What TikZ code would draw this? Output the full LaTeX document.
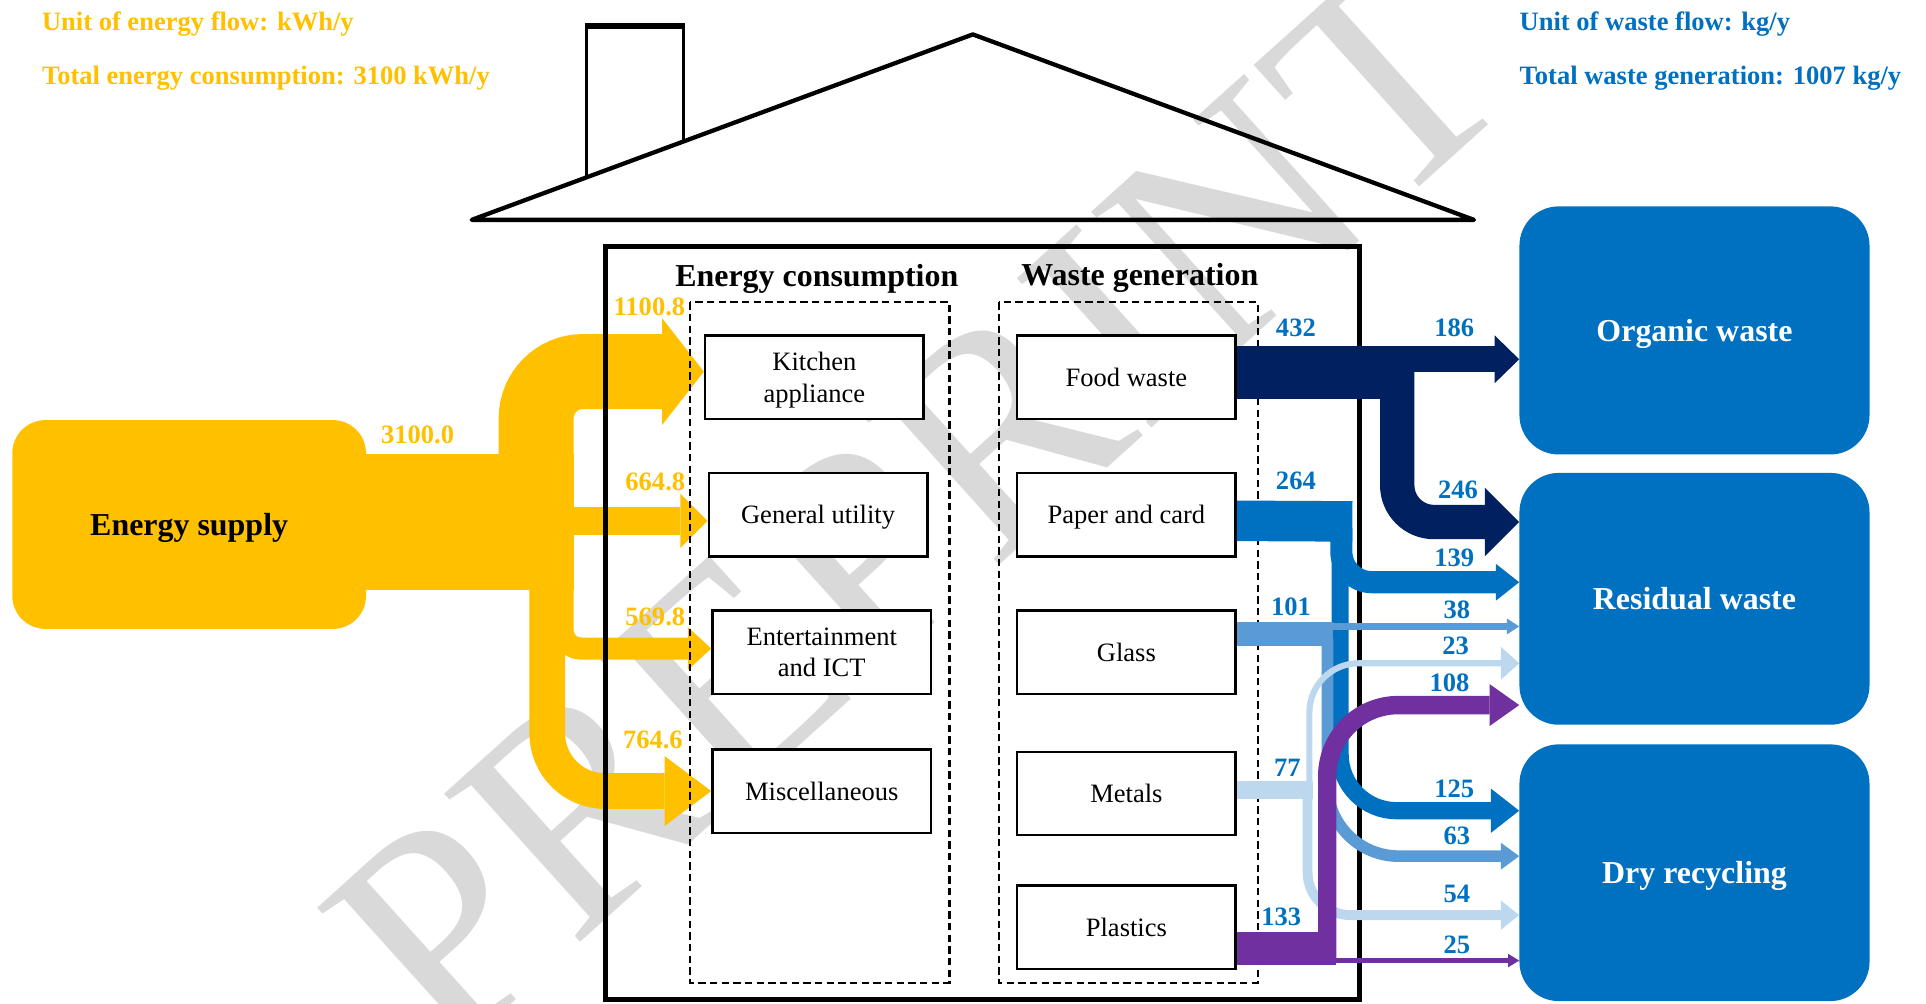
\documentclass[tikz,border=0pt]{standalone}
\usepackage{fontspec}
\setmainfont{Liberation Serif}
\usepackage{tikz}
\usetikzlibrary{arrows.meta,calc}

\definecolor{energyc}{HTML}{FFC000}
\definecolor{sinkc}{HTML}{0070C0}
\definecolor{foodc}{HTML}{002060}
\definecolor{paperc}{HTML}{0070C0}
\definecolor{glassc}{HTML}{5B9BD5}
\definecolor{metalc}{HTML}{BDD7EE}
\definecolor{plasticc}{HTML}{7030A0}
\definecolor{markc}{HTML}{D9D9D9}

\newcommand{\fsmall}{\fontsize{21.6}{26}\selectfont}
\newcommand{\fbig}{\fontsize{26}{31}\selectfont}

\tikzset{
  box/.style={draw, line width=2pt, fill=white, minimum width=178pt, minimum height=68pt, align=center, text depth=0pt, font=\fsmall},
  sink/.style={fill=sinkc, rounded corners=32pt, minimum width=285pt, text=white, text depth=0pt, font=\bfseries\fbig},
  elbl/.style={text=energyc, font=\bfseries\fsmall, text depth=0pt, inner sep=0pt},
  wlbl/.style={text=sinkc, font=\bfseries\fsmall, text depth=0pt, inner sep=0pt},
  frame/.style={dash pattern=on 6pt off 3.5pt, line width=1.8pt},
  hd/.style 2 args={-{Triangle[length=#1,width=#2,line width=0pt]}},
}

\begin{document}
\begin{tikzpicture}[x=1pt, y=-1pt]
    \useasboundingbox (0,0) rectangle (1568,817);
    % Watermark
    \node[text=markc, rotate=42, inner sep=0pt, font=\fontsize{250}{250}\selectfont] (mark) at (747,410) {PREPRINT};

    % Units and totals
    \node[elbl, anchor=west] (eunit) at (34,17) {Unit of energy flow: kWh/y};
    \node[elbl, anchor=west] (etotal) at (34,61) {Total energy consumption: 3100 kWh/y};
    \node[wlbl, anchor=west] (wunit) at (1237,17) {Unit of waste flow: kg/y};
    \node[wlbl, anchor=west] (wtotal) at (1237,61) {Total waste generation: 1007 kg/y};

    % Source, end uses, waste types and sinks
    \node[fill=energyc, rounded corners=27pt, minimum width=288pt, minimum height=170pt, text depth=0pt, font=\bfseries\fbig] (supply) at (154,427) {Energy supply};
    \node[box] (kitchen) at (663,307) {Kitchen\\appliance};
    \node[box] (general) at (666,419) {General utility};
    \node[box] (ent) at (669,531) {Entertainment\\and ICT};
    \node[box] (misc) at (669,644) {Miscellaneous};
    \node[box] (food) at (917,307) {Food waste};
    \node[box] (paper) at (917,419) {Paper and card};
    \node[box] (glass) at (917,531) {Glass};
    \node[box] (metals) at (917,646) {Metals};
    \node[box] (plastics) at (917,755) {Plastics};
    \node[sink, minimum height=202pt] (organic) at (1379.5,269) {Organic waste};
    \node[sink, minimum height=205pt] (residual) at (1379.5,487.5) {Residual waste};
    \node[sink, minimum height=209pt] (dry) at (1379.5,710.5) {Dry recycling};

    % Energy flows
    \fill[energyc] (supply.east |- 0,370) rectangle (467,480);
    \draw[energyc, line width=61pt, rounded corners=38pt, hd={34pt}{87pt}] (436.5,420) |- ([yshift=4.5pt]kitchen.west);
    \draw[energyc, line width=23pt, hd={22pt}{44pt}] (460,424) -- ([yshift=-5pt]general.west);
    \draw[energyc, line width=18pt, rounded corners=15pt, hd={19pt}{35pt}] (458,470) |- ([yshift=3pt]ent.west);
    \draw[energyc, line width=29pt, rounded corners=47pt, hd={38pt}{57pt}] (445.5,470) |- (misc.west);
    \node[elbl] (v3100) at (340,354) {3100.0};
    \node[elbl, anchor=east] (v1101) at (558,250) {1100.8};
    \node[elbl, anchor=east] (v665) at (558,392) {664.8};
    \node[elbl, anchor=east] (v570) at (558,502) {569.8};
    \node[elbl, anchor=east] (v765) at (556,602) {764.6};

    % House
    \draw[line width=4pt] (493,201) rectangle (1107,814);
    \draw[line width=3.5pt, line join=round] (384,179) -- (792,28) -- (1200,179) -- cycle;
    \draw[line width=3pt] (477.5,145) -- (477.5,21) -- (556.5,21) -- (556.5,115);
    \draw[line width=5pt] (476,21) -- (558,21);
    \draw[frame] (562,246) rectangle (773,800);
    \draw[frame] (813,246) rectangle (1024,800);
    \node[font=\bfseries\fbig, text depth=0pt] (econs) at (665,224) {Energy consumption};
    \node[font=\bfseries\fbig, text depth=0pt] (wgen) at (928,223) {Waste generation};

    % Waste flows
    \draw[foodc, line width=43pt] ([yshift=3.5pt]food.east) -- (1151,303.5);
    \draw[foodc, line width=21pt, hd={20pt}{39pt}] (1120,292.5) -- (organic.west |- 0,292.5);
    \draw[foodc, line width=28pt, rounded corners=30pt, hd={28pt}{56pt}] (1137.5,300) |- (residual.west |- 0,425);
    \draw[paperc, line width=33pt] ([yshift=-5pt]paper.east) -- (1101,424.5);
    \draw[paperc, line width=18pt, rounded corners=25pt, hd={19pt}{30pt}] (1092,430) |- (residual.west |- 0,474);
    \draw[paperc, line width=14pt, rounded corners=46pt, hd={23pt}{36pt}] (1091,430) |- (dry.west |- 0,660);
    \draw[glassc, line width=20pt] ([yshift=15pt]glass.east) -- (1085.5,516);
    \draw[glassc, line width=9.5pt, rounded corners=58pt, hd={15pt}{22pt}] (1080.75,520) |- (dry.west |- 0,697);
    \draw[glassc, line width=5pt, hd={10pt}{13pt}] (1080,510) -- (residual.west |- 0,510);
    \draw[metalc, line width=15pt] ([yshift=3pt]metals.east) -- (1069,643);
    \draw[metalc, line width=8pt, rounded corners=35pt, hd={15pt}{24pt}] (1064.5,640) |- (dry.west |- 0,745);
    \draw[metalc, line width=5pt, rounded corners=40pt, hd={15pt}{27pt}] (1066,645) |- (residual.west |- 0,540);
    \draw[plasticc, line width=27pt] ([yshift=-17.5pt]plastics.east) -- (1088,772.5);
    \draw[plasticc, line width=15pt, rounded corners=58pt, hd={24pt}{34pt}] (1080.5,780) |- (residual.west |- 0,574);
    \draw[plasticc, line width=4pt, hd={9pt}{11pt}] (1080,782) -- (dry.west |- 0,782);
    \node[wlbl] (w432) at (1055,267) {432};
    \node[wlbl] (w186) at (1184,267) {186};
    \node[wlbl] (w246) at (1187,399) {246};
    \node[wlbl] (w139) at (1184,454) {139};
    \node[wlbl] (w264) at (1055,391) {264};
    \node[wlbl] (w38) at (1186,496) {38};
    \node[wlbl] (w23) at (1185,526) {23};
    \node[wlbl] (w108) at (1180,556) {108};
    \node[wlbl] (w101) at (1051,494) {101};
    \node[wlbl] (w77) at (1048,625) {77};
    \node[wlbl] (w125) at (1184,642) {125};
    \node[wlbl] (w63) at (1186,680) {63};
    \node[wlbl] (w54) at (1186,728) {54};
    \node[wlbl] (w25) at (1186,769) {25};
    \node[wlbl] (w133) at (1043,746) {133};
\end{tikzpicture}
\end{document}
